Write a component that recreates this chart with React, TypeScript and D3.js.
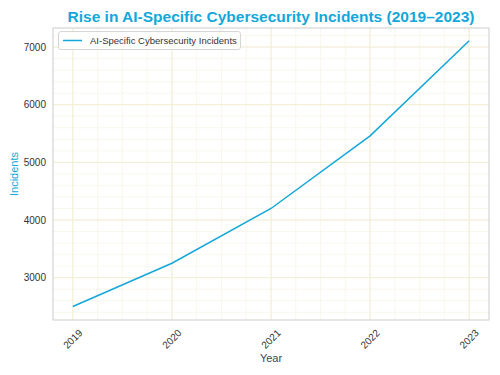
import React from "react";
import * as d3 from "d3";

const years = [2019, 2020, 2021, 2022, 2023];
const incidents = [2500, 3250, 4200, 5460, 7110];
const yTicks = [3000, 4000, 5000, 6000, 7000];
const title = "Rise in AI-Specific Cybersecurity Incidents (2019–2023)";
const seriesName = "AI-Specific Cybersecurity Incidents";

const W = 500, H = 375;
const M = { left: 53, right: 489, top: 28, bottom: 320 };
const BLUE = "#14a7da";
const FONT = "'Liberation Sans', Arial, sans-serif";

export default function App() {
  const x = d3.scaleLinear().domain([2018.8, 2023.2]).range([M.left, M.right]);
  const y = d3.scaleLinear().domain([2266, 7330]).range([M.bottom, M.top]);
  const line = d3.line<number>().x((_, i) => x(years[i])).y((d) => y(d));
  const xMinor = d3.range(2018.75, 2023.26, 0.25).filter((v) => x(v) >= M.left && x(v) <= M.right);
  const yMinor = d3.range(2400, 7400, 200).filter((v) => y(v) >= M.top && y(v) <= M.bottom);

  return (
    <svg width={W} height={H} style={{ position: "absolute", left: 0, top: 0, background: "#fff" }} fontFamily={FONT}>
      <rect x={0} y={0} width={W} height={H} fill="#fff" />
      <g>
        {xMinor.map((v, i) => (
          <line key={"xm" + i} x1={x(v)} x2={x(v)} y1={M.top} y2={M.bottom} stroke="#f7f5e8" strokeWidth={0.8} />
        ))}
        {yMinor.map((v, i) => (
          <line key={"ym" + i} x1={M.left} x2={M.right} y1={y(v)} y2={y(v)} stroke="#f7f5e8" strokeWidth={0.8} />
        ))}
        {years.map((v) => (
          <line key={"xg" + v} x1={x(v)} x2={x(v)} y1={M.top} y2={M.bottom} stroke="#f2eed4" strokeWidth={1} />
        ))}
        {yTicks.map((v) => (
          <line key={"yg" + v} x1={M.left} x2={M.right} y1={y(v)} y2={y(v)} stroke="#f2eed4" strokeWidth={1} />
        ))}
      </g>
      <path d={line(incidents) || ""} fill="none" stroke={BLUE} strokeWidth={1.5} />
      <rect x={M.left} y={M.top} width={M.right - M.left} height={M.bottom - M.top} fill="none" stroke="#cccccc" strokeWidth={1} />
      {yTicks.map((v) => (
        <text key={"yt" + v} x={M.left - 7} y={y(v)} dy="0.35em" textAnchor="end" fontSize={10} fill="#333">{v}</text>
      ))}
      {years.map((v) => (
        <text key={"xt" + v} transform={`translate(${x(v)},${339}) rotate(-45)`} textAnchor="middle" dy="0.35em" fontSize={10} fill="#333">{v}</text>
      ))}
      <text x={(M.left + M.right) / 2} y={362} textAnchor="middle" fontSize={11} fill="#34495e">Year</text>
      <text transform={`translate(18,${(M.top + M.bottom) / 2}) rotate(-90)`} textAnchor="middle" fontSize={11} fill={BLUE}>Incidents</text>
      <text x={(M.left + M.right) / 2} y={22} textAnchor="middle" fontSize={15.5} fontWeight="bold" fill={BLUE}>{title}</text>
      <g>
        <rect x={58.5} y={31.5} width={182} height={18} rx={2.5} fill="#fff" fillOpacity={0.85} stroke="#d6d6d6" strokeWidth={1} />
        <line x1={63} x2={82} y1={40.5} y2={40.5} stroke={BLUE} strokeWidth={1.5} />
        <text x={90} y={40.5} dy="0.35em" fontSize={9.5} fill="#333">{seriesName}</text>
      </g>
    </svg>
  );
}
